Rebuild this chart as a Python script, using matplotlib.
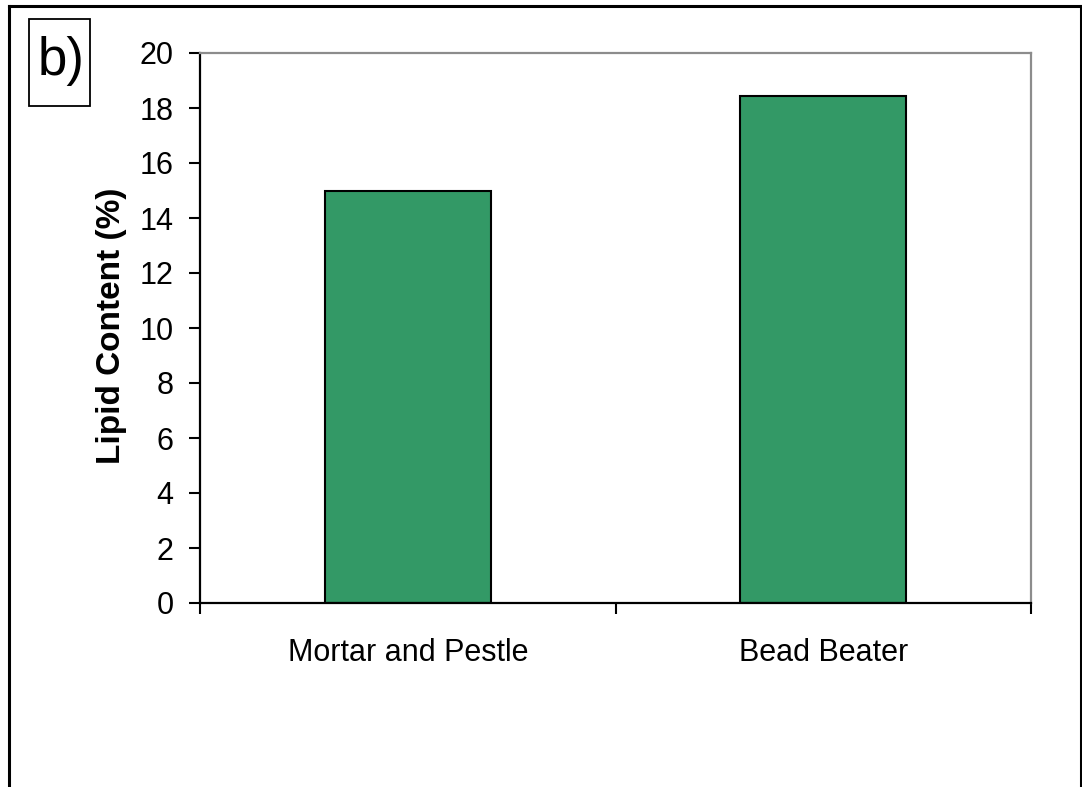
import matplotlib
matplotlib.use("Agg")
import matplotlib.pyplot as plt
from matplotlib.patches import Rectangle
from matplotlib.lines import Line2D

categories = ["Mortar and Pestle", "Bead Beater"]
lipid_content = [15.0, 18.45]
y_ticks = [0, 2, 4, 6, 8, 10, 12, 14, 16, 18, 20]
panel_label = "b)"
y_label = "Lipid Content (%)"

plt.rcParams['font.family'] = ['Liberation Sans', 'DejaVu Sans']

W, H = 1082, 787
fig = plt.figure(figsize=(W / 100, H / 100), dpi=100)
fig.patch.set_facecolor("white")

def fx(px):
    return px / W

def fy(py):
    return 1 - py / H

ax = fig.add_axes([fx(200), fy(603), fx(1031) - fx(200), fy(53) - fy(603)])

x = list(range(len(categories)))
ax.bar(x, lipid_content, width=0.4, color="#339966", edgecolor="black", linewidth=1.5, zorder=3)

ax.set_xlim(-0.5, len(categories) - 0.5)
ax.set_ylim(0, 20)
ax.set_yticks(y_ticks)
ax.set_yticklabels([str(v) for v in y_ticks], fontsize=22)

# major x ticks at category boundaries, labels at centres
ax.set_xticks([i - 0.5 for i in range(len(categories) + 1)])
ax.set_xticklabels([])
ax.set_xticks(x, minor=True)
ax.set_xticklabels(categories, minor=True, fontsize=22)
ax.tick_params(axis="x", which="major", direction="out", length=8, width=1.5, color="black")
ax.tick_params(axis="x", which="minor", length=0, pad=25)
ax.tick_params(axis="y", direction="out", length=8, width=1.5, color="black", pad=11)

for side in ["left", "bottom"]:
    ax.spines[side].set_color("black")
    ax.spines[side].set_linewidth(1.6)
for side in ["top", "right"]:
    ax.spines[side].set_color("#8c8c8c")
    ax.spines[side].set_linewidth(1.6)
ax.spines["bottom"].set_zorder(4)

fig.text(fx(111.5), fy(325.5), y_label, rotation=90, ha="center", va="center",
         fontsize=24, fontweight="bold")

# panel label box
fig.patches.append(Rectangle((fx(29), fy(106)), fx(90) - fx(29), fy(19) - fy(106),
                             transform=fig.transFigure, fill=False, edgecolor="black",
                             linewidth=1.3))
fig.text(fx(61), fy(61), panel_label, ha="center", va="center", fontsize=38)

# outer frame (left, top, right)
frame_kw = dict(transform=fig.transFigure, color="black", linewidth=2.2)
fig.lines.append(Line2D([fx(9), fx(9)], [0, fy(6)], **frame_kw))
fig.lines.append(Line2D([fx(9), fx(1080.5)], [fy(6), fy(6)], **frame_kw))
fig.lines.append(Line2D([fx(1080.5), fx(1080.5)], [fy(6), 0], **frame_kw))

fig.savefig("out.png", dpi=100)
